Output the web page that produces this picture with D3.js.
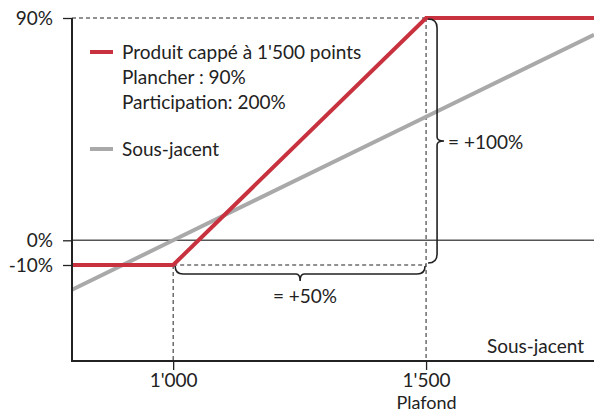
<!DOCTYPE html>
<html>
<head>
<meta charset="utf-8">
<script src="https://cdn.jsdelivr.net/npm/d3@7"></script>
<style>
  html, body { margin: 0; padding: 0; background: #fff; }
  svg text { font-family: Lato, "Open Sans", sans-serif; fill: #222; }
</style>
</head>
<body>
<svg id="chart" width="594" height="413"></svg>
<script>
'use strict';

// data
var underlyingLevels = [800, 1000, 1500, 1832];
var underlyingReturns = [-0.20, 0, 0.50, 0.832];
var productLevels = [800, 1000, 1500, 1832];
var productReturns = [-0.10, -0.10, 0.90, 0.90];
var yTicks = [0.90, 0, -0.10];
var yTickLabels = ['90%', '0%', '-10%'];
var xTicks = [1000, 1500];
var xTickLabels = ["1'000", "1'500"];
var legendLines = ["Produit cappé à 1'500 points", 'Plancher : 90%', 'Participation: 200%'];
var floorLevel = 1000, capLevel = 1500;

var svg = d3.select('#chart');
var red = '#c8323f', grey = '#a9a9a9', ink = '#222';
var fs = '19px';

var x = d3.scaleLinear().domain([800, 1832]).range([72, 594]);
var y = d3.scaleLinear().domain([-0.10, 0.90]).range([265, 18]);
var axisY = 361;

// guide lines (dashed)
var dash = svg.append('g').attr('stroke', ink).attr('stroke-width', 1).attr('stroke-dasharray', '4,3').attr('fill', 'none');
dash.append('line').attr('x1', x(800)).attr('x2', x(capLevel)).attr('y1', y(0.90)).attr('y2', y(0.90));
dash.append('line').attr('x1', x(capLevel)).attr('x2', x(capLevel)).attr('y1', y(0.90)).attr('y2', axisY);
dash.append('line').attr('x1', x(floorLevel)).attr('x2', x(floorLevel)).attr('y1', y(-0.10)).attr('y2', axisY);
dash.append('line').attr('x1', x(floorLevel)).attr('x2', x(capLevel)).attr('y1', y(-0.10)).attr('y2', y(-0.10));

// zero line
svg.append('line').attr('x1', x(800)).attr('x2', 594).attr('y1', y(0)).attr('y2', y(0))
  .attr('stroke', '#555').attr('stroke-width', 1.5);

// series
var line = d3.line().x(function(d){ return x(d[0]); }).y(function(d){ return y(d[1]); });
svg.append('path').datum(d3.zip(underlyingLevels, underlyingReturns))
  .attr('d', line).attr('fill', 'none').attr('stroke', grey).attr('stroke-width', 4);
svg.append('path').datum(d3.zip(productLevels, productReturns))
  .attr('d', line).attr('fill', 'none').attr('stroke', red).attr('stroke-width', 4)
  .attr('stroke-linejoin', 'miter');

// braces
function brace(x0, y0, x1, y1, depth, r) {
  // horizontal brace points down, vertical brace points right
  if (y0 === y1) {
    var yb = y0 + r, xm = (x0 + x1) / 2;
    return 'M' + x0 + ',' + y0 + ' Q' + x0 + ',' + yb + ' ' + (x0 + r) + ',' + yb +
      ' L' + (xm - 4) + ',' + yb + ' Q' + xm + ',' + yb + ' ' + xm + ',' + (yb + depth) +
      ' Q' + xm + ',' + yb + ' ' + (xm + 4) + ',' + yb +
      ' L' + (x1 - r) + ',' + yb + ' Q' + x1 + ',' + yb + ' ' + x1 + ',' + y0;
  }
  var xb = x0 + r, ym = (y0 + y1) / 2;
  return 'M' + x0 + ',' + y0 + ' Q' + xb + ',' + y0 + ' ' + xb + ',' + (y0 + r) +
    ' L' + xb + ',' + (ym - 4) + ' Q' + xb + ',' + ym + ' ' + (xb + depth) + ',' + ym +
    ' Q' + xb + ',' + ym + ' ' + xb + ',' + (ym + 4) +
    ' L' + xb + ',' + (y1 - r) + ' Q' + xb + ',' + y1 + ' ' + x0 + ',' + y1;
}
svg.append('path').attr('d', brace(x(floorLevel) + 2, y(-0.10) + 1, x(capLevel) - 1, y(-0.10) + 1, 7, 8))
  .attr('fill', 'none').attr('stroke', ink).attr('stroke-width', 1.6);
svg.append('path').attr('d', brace(x(capLevel) + 2, y(0.90) + 1, x(capLevel) + 2, y(-0.10) - 2, 7, 9))
  .attr('fill', 'none').attr('stroke', ink).attr('stroke-width', 1.6);

svg.append('text').attr('x', 305).attr('y', 303).attr('text-anchor', 'middle')
  .style('font-size', fs).text('= +50%');
svg.append('text').attr('x', 448).attr('y', 149)
  .style('font-size', fs).text('= +100%');

// axes
var yAxis = d3.axisLeft(y).tickValues(yTicks).tickSize(9).tickPadding(10)
  .tickFormat(function(d, i){ return yTickLabels[i]; });
var gy = svg.append('g').attr('transform', 'translate(' + x(800) + ',0)').call(yAxis);
gy.select('.domain').remove();
gy.append('line').attr('x1', 0).attr('x2', 0).attr('y1', y(0.90)).attr('y2', axisY + 1);

var xAxis = d3.axisBottom(x).tickValues(xTicks).tickSize(9).tickPadding(4)
  .tickFormat(function(d, i){ return xTickLabels[i]; });
var gx = svg.append('g').attr('transform', 'translate(0,' + axisY + ')').call(xAxis);
gx.select('.domain').remove();
gx.append('line').attr('x1', x(800)).attr('x2', 594).attr('y1', 0).attr('y2', 0);

[gx, gy].forEach(function(g){
  g.selectAll('line').attr('stroke', ink).attr('stroke-width', 2);
  g.selectAll('.tick line').attr('stroke-width', 1.3);
  g.selectAll('text').attr('fill', ink).style('font-size', fs).attr('font-family', null);
});
gx.selectAll('.tick').filter(function(d){ return d === capLevel; })
  .append('text').attr('y', 48).attr('text-anchor', 'middle').attr('fill', ink)
  .style('font-size', '18px').text('Plafond');

svg.append('text').attr('x', 584).attr('y', 353).attr('text-anchor', 'end')
  .style('font-size', fs).text('Sous-jacent');

// legend
var legend = svg.append('g');
legend.append('line').attr('x1', 90).attr('x2', 113).attr('y1', 52).attr('y2', 52)
  .attr('stroke', red).attr('stroke-width', 4);
legend.selectAll('text.lg').data(legendLines).enter().append('text')
  .attr('class', 'lg').attr('x', 122).attr('y', function(d, i){ return 59 + i * 25; })
  .style('font-size', fs).text(function(d){ return d; });
legend.append('line').attr('x1', 90).attr('x2', 113).attr('y1', 149).attr('y2', 149)
  .attr('stroke', grey).attr('stroke-width', 4);
legend.append('text').attr('x', 122).attr('y', 156).style('font-size', fs).text('Sous-jacent');
</script>
</body>
</html>
